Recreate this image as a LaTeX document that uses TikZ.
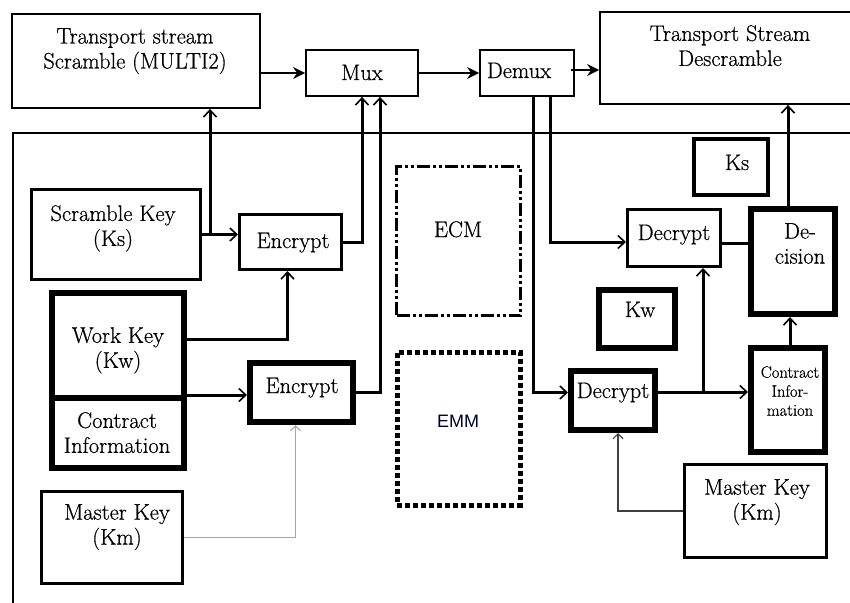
\documentclass[tikz,border=0pt]{standalone}
\usepackage{fontspec}
\setmainfont{Latin Modern Roman}[FakeBold=0.6]
\newfontfamily\emmfont{Liberation Sans}
\usetikzlibrary{arrows.meta,calc}
\begin{document}
\begin{tikzpicture}[x=1pt,y=-1pt,
  every node/.style={font=\fontsize{22.5}{25}\selectfont},
  thinbox/.style={draw, line width=1.8pt, inner sep=0pt},
  midbox/.style={draw, line width=3pt, inner sep=0pt},
  ksbox/.style={draw, line width=4pt, inner sep=0pt},
  fatbox/.style={draw, line width=6pt, inner sep=0pt},
  txt/.style={inner sep=0pt, align=center, anchor=north},
  btxt/.style={inner sep=0pt, anchor=base},
  toparr/.style={line width=2pt, -{Stealth[length=12pt,width=12pt,inset=4pt]}},
  arr/.style={line width=3pt, -{Straight Barb[length=7pt,width=13pt,line width=1.6pt]}},
  conn/.style={line width=3pt},
  greyarr/.style={line width=1.5pt, draw=gray!70, -{Straight Barb[length=5pt,width=10pt,line width=1.2pt]}},
  darkarr/.style={line width=1.5pt, draw=black!75, -{Straight Barb[length=5pt,width=10pt,line width=1.2pt]}}
]
\useasboundingbox (0,0) rectangle (850,602);
\clip (0,0) rectangle (850,602);
\fill[white] (0,0) rectangle (850,602);

% outer frame
\node[thinbox, anchor=north west, minimum width=860pt, minimum height=500pt] (frame) at (12,132) {};

% top row
\node[thinbox, minimum width=248pt, minimum height=94pt] (tss) at (136,61) {};
\node[txt] (tsst) at (135,28) {Transport stream\\Scramble (MULTI2)};
\node[thinbox, minimum width=112pt, minimum height=46pt] (mux) at (362,73) {};
\node[btxt] (muxt) at (362,80) {Mux};
\node[thinbox, minimum width=94pt, minimum height=46pt] (demux) at (527,73) {};
\node[btxt] (demuxt) at (519,78) {Demux};
\node[thinbox, minimum width=260pt, minimum height=92pt] (tsd) at (730,58) {};
\node[txt] (tsdt) at (730,25) {Transport Stream\\Descramble};

% left side
\node[midbox, minimum width=169pt, minimum height=90pt] (sk) at (116,234.5) {};
\node[txt] (skt) at (113,205) {Scramble Key\\(Ks)};
\node[midbox, minimum width=102pt, minimum height=55pt] (enc1) at (290.5,242) {};
\node[btxt] (enc1t) at (293,248) {Encrypt};
\node[fatbox, minimum width=132pt, minimum height=105pt] (wk) at (117.5,345.5) {};
\node[txt] (wkt) at (118,327) {Work Key\\(Kw)};
\node[fatbox, minimum width=132pt, minimum height=70pt] (ci1) at (117.5,433) {};
\node[txt] (ci1t) at (117,412) {Contract\\Information};
\node[fatbox, minimum width=103pt, minimum height=59pt] (enc2) at (301.5,392.5) {};
\node[btxt] (enc2t) at (302,393) {Encrypt};
\node[midbox, minimum width=141pt, minimum height=92pt] (mk1) at (112,537.5) {};
\node[txt] (mk1t) at (117,504) {Master Key\\(Km)};

% middle
\node[draw, line width=3pt, dash pattern=on 13pt off 3pt on 3pt off 3pt on 3pt off 3pt, minimum width=124pt, minimum height=149pt, inner sep=0pt] (ecm) at (458.5,241) {};
\node[btxt] (ecmt) at (458,237) {ECM};
\node[draw, line width=5pt, dash pattern=on 5pt off 3pt, minimum width=123pt, minimum height=153pt, inner sep=0pt] (emm) at (458.5,428.5) {};
\node[btxt, font=\emmfont\fontsize{18}{20}\selectfont, text=black!80!blue] (emmt) at (458,427) {EMM};

% right side
\node[ksbox, minimum width=74pt, minimum height=56pt] (ks) at (731,167) {};
\node[btxt] (kst) at (737,170) {Ks};
\node[midbox, minimum width=93pt, minimum height=57pt] (dec1) at (674,238) {};
\node[btxt] (dec1t) at (674,240) {Decrypt};
\node[fatbox, minimum width=84pt, minimum height=105pt] (dcs) at (793,261.5) {};
\node[txt] (dcst) at (800,223) {De-\\cision};
\node[fatbox, minimum width=76pt, minimum height=58pt] (kw) at (637,319) {};
\node[btxt] (kwt) at (640,317) {Kw};
\node[fatbox, minimum width=84pt, minimum height=59pt] (dec2) at (613,400.5) {};
\node[btxt] (dec2t) at (613,398) {Decrypt};
\node[fatbox, minimum width=74pt, minimum height=104pt] (ci2) at (788,400) {};
\node[txt, font=\fontsize{16.5}{19}\selectfont] (ci2t) at (790,366) {Contract\\Infor-\\mation};
\node[midbox, minimum width=142pt, minimum height=93pt] (mk2) at (755.5,511) {};
\node[txt] (mk2t) at (757,479) {Master Key\\(Km)};

% top connectors
\coordinate (dmx) at ($(demux.east)+(-4,-3)$);
\draw[toparr] (tss.east |- mux.west) -- (mux.west);
\draw[toparr] (mux.east) -- (demux.west);
\draw[toparr] (dmx) -- (tsd.west |- dmx);

% left connectors
\coordinate (j1) at ($(sk.east)+(8,0)$);
\draw[arr] (sk.east) -- (enc1.west |- sk.east);
\draw[arr] (j1) -- (j1 |- tss.south);
\draw[arr] (enc1.east) -| (mux.south);
\draw[arr] (enc2.east) -| ([xshift=18pt]mux.south);
\draw[arr] ([yshift=6pt]wk.east) -| ([xshift=-3pt]enc1.south);
\draw[arr] (ci1.north east) -- (enc2.west |- ci1.north east);
\draw[greyarr] (mk1.east) -| ([xshift=-6pt]enc2.south);

% right connectors
\coordinate (d1in) at ($(dec1.west)+(0,4)$);
\coordinate (d2in) at ($(dec2.west)+(0,-8)$);
\coordinate (d1out) at ($(dec1.east)+(0,5)$);
\draw[arr] ([xshift=23pt]demux.south) |- (d1in);
\draw[arr] ([xshift=6pt]demux.south) |- (d2in);
\coordinate (j2) at (703,392);
\draw[arr] (dec2.east |- j2) -- (ci2.west |- j2);
\draw[arr] (j2) -- (j2 |- dec1.south);
\draw[conn] (d1out) -- (dcs.west |- d1out);
\draw[arr] ([xshift=2pt]ci2.north) -- ([xshift=2pt]ci2.north |- dcs.south);
\draw[arr] ([xshift=-5pt]dcs.north) -- ([xshift=-5pt]dcs.north |- tsd.south);
\draw[darkarr] (mk2.west) -| ([xshift=5pt]dec2.south);
\end{tikzpicture}
\end{document}
